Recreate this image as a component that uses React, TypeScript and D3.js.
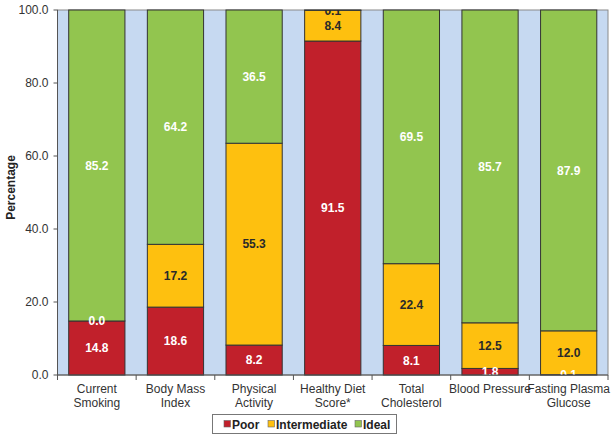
import React from "react";
import * as d3 from "d3";

const categories = [
  ["Current", "Smoking"],
  ["Body Mass", "Index"],
  ["Physical", "Activity"],
  ["Healthy Diet", "Score*"],
  ["Total", "Cholesterol"],
  ["Blood Pressure"],
  ["Fasting Plasma", "Glucose"],
];
const poor = [14.8, 18.6, 8.2, 91.5, 8.1, 1.8, 0.1];
const intermediate = [0.0, 17.2, 55.3, 8.4, 22.4, 12.5, 12.0];
const ideal = [85.2, 64.2, 36.5, 0.1, 69.5, 85.7, 87.9];
const seriesNames = ["Poor", "Intermediate", "Ideal"];
const yTicks = [0, 20, 40, 60, 80, 100];

const colors: Record<string, string> = {
  Poor: "#C1202B",
  Intermediate: "#FEC00F",
  Ideal: "#92C54F",
};
const labelColor: Record<string, string> = {
  Poor: "#ffffff",
  Intermediate: "#2a2a2a",
  Ideal: "#ffffff",
};
// tiny segments whose labels Excel drew in a different colour
const labelOverride: Record<string, string> = {
  "Intermediate-0": "#ffffff",
  "Ideal-3": "#2a2a2a",
};

const W = 614;
const H = 440;
const margin = { top: 10, right: 6, bottom: 65, left: 57.5 };

export default function App() {
  const innerW = W - margin.left - margin.right;
  const innerH = H - margin.top - margin.bottom;

  const rows = categories.map((c, i) => ({
    key: i,
    Poor: poor[i],
    Intermediate: intermediate[i],
    Ideal: ideal[i],
  }));
  const stacked = d3.stack<any>().keys(seriesNames)(rows);

  const x = d3
    .scaleBand<number>()
    .domain(categories.map((_, i) => i))
    .range([0, innerW])
    .paddingInner(0.285)
    .paddingOuter(0.1425);
  const y = d3.scaleLinear().domain([0, 100]).range([innerH, 0]);
  const step = x.step();

  const font = "Arial, 'Liberation Sans', sans-serif";

  const legendItems = [
    { name: "Poor", sx: 224, tx: 232 },
    { name: "Intermediate", sx: 268, tx: 276 },
    { name: "Ideal", sx: 355, tx: 363 },
  ];

  return (
    <svg
      width={W}
      height={H}
      style={{ position: "absolute", left: 0, top: 0, fontFamily: font }}
    >
      <defs>
        <clipPath id="plot">
          <rect x={0} y={0} width={innerW} height={innerH} />
        </clipPath>
      </defs>
      <text
        transform={`translate(14.5,${margin.top + innerH / 2 - 5}) rotate(-90)`}
        textAnchor="middle"
        fontSize={12}
        fontWeight="bold"
        fill="#222"
      >
        Percentage
      </text>
      <g transform={`translate(${margin.left},${margin.top})`}>
        <rect
          x={0}
          y={0}
          width={innerW}
          height={innerH}
          fill="#C6D9F1"
          stroke="#8a8a8a"
          strokeWidth={1}
        />
        {stacked.map((s) =>
          s.map((d, i) => (
            <rect
              key={`${s.key}-${i}`}
              x={x(i)}
              y={y(d[1])}
              width={x.bandwidth()}
              height={y(d[0]) - y(d[1])}
              fill={colors[s.key]}
              stroke="#333"
              strokeWidth={1}
            />
          ))
        )}
        <g clipPath="url(#plot)">
          {stacked.map((s) =>
            s.map((d, i) => (
              <text
                key={`l-${s.key}-${i}`}
                x={(x(i) || 0) + x.bandwidth() / 2}
                y={y((d[0] + d[1]) / 2)}
                dy="0.36em"
                textAnchor="middle"
                fontSize={12}
                fontWeight="bold"
                fill={labelOverride[`${s.key}-${i}`] || labelColor[s.key]}
              >
                {(d[1] - d[0]).toFixed(1)}
              </text>
            ))
          )}
        </g>
        {/* y axis */}
        <line x1={0} x2={0} y1={0} y2={innerH} stroke="#555" />
        {yTicks.map((t) => (
          <g key={t} transform={`translate(0,${y(t)})`}>
            <line x1={-4} x2={0} stroke="#555" />
            <text
              x={-9}
              dy="0.35em"
              textAnchor="end"
              fontSize={12}
              fill="#333"
            >
              {t.toFixed(1)}
            </text>
          </g>
        ))}
        {/* x axis */}
        <line x1={0} x2={innerW} y1={innerH} y2={innerH} stroke="#555" />
        {d3.range(categories.length + 1).map((i) => (
          <line
            key={`xt-${i}`}
            x1={i * step}
            x2={i * step}
            y1={innerH}
            y2={innerH + 5}
            stroke="#555"
          />
        ))}
        {categories.map((lines, i) => (
          <text
            key={`xl-${i}`}
            x={(x(i) || 0) + x.bandwidth() / 2}
            y={innerH + 18}
            textAnchor="middle"
            fontSize={12}
            fill="#333"
          >
            {lines.map((ln, j) => (
              <tspan key={j} x={(x(i) || 0) + x.bandwidth() / 2} dy={j === 0 ? 0 : 13.5}>
                {ln}
              </tspan>
            ))}
          </text>
        ))}
      </g>
      {/* legend */}
      <rect
        x={212.5}
        y={414.5}
        width={184}
        height={19}
        fill="#fff"
        stroke="#777"
        strokeWidth={1}
      />
      {legendItems.map((it) => (
        <g key={it.name}>
          <rect
            x={it.sx}
            y={420.5}
            width={6.5}
            height={6.5}
            fill={colors[it.name]}
            stroke="#666"
            strokeWidth={0.6}
          />
          <text
            x={it.tx}
            y={428.5}
            fontSize={12}
            fontWeight="bold"
            fill="#222"
          >
            {it.name}
          </text>
        </g>
      ))}
    </svg>
  );
}
